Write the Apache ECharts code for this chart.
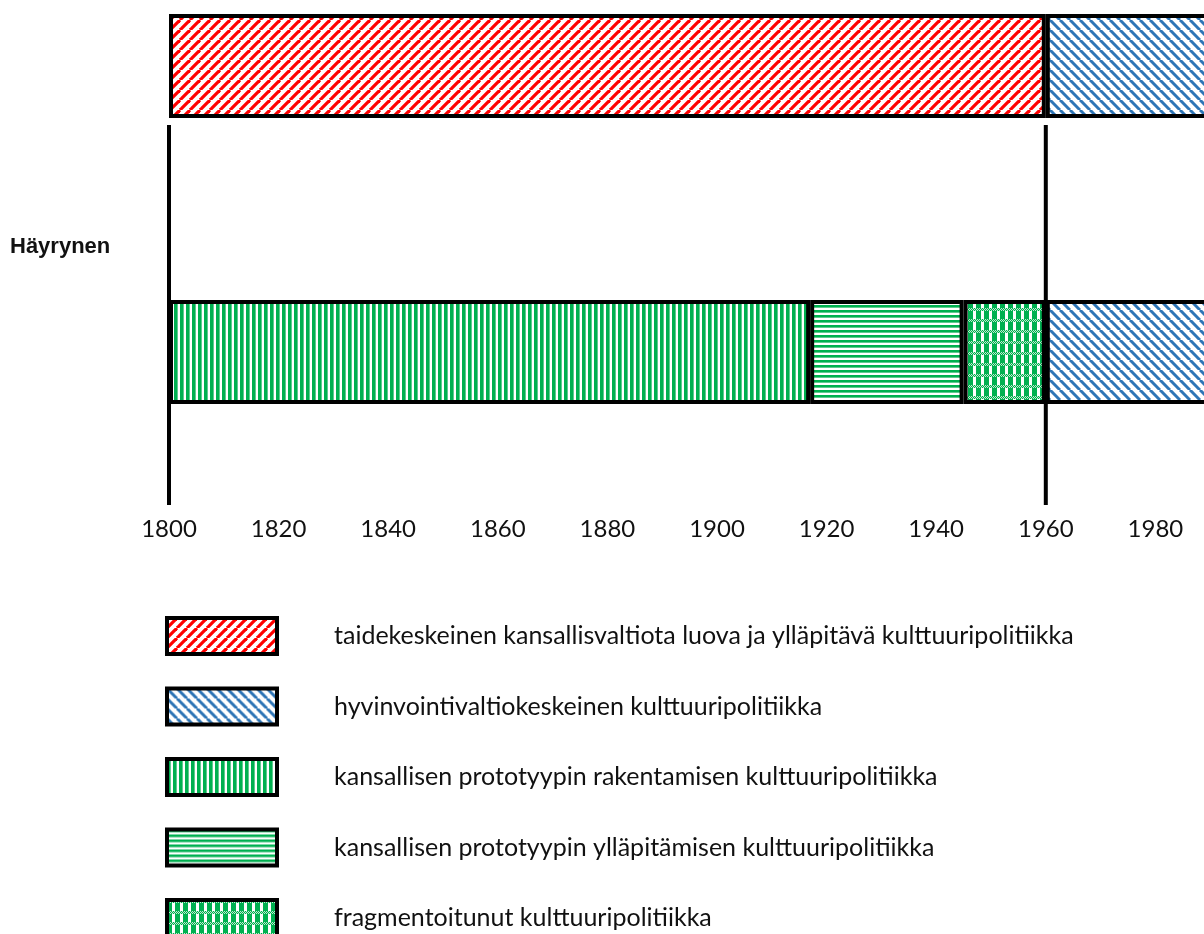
<!DOCTYPE html>
<html><head><meta charset="utf-8">
<script src="https://cdn.jsdelivr.net/npm/echarts@6/dist/echarts.min.js"></script>
<style>html,body{margin:0;padding:0;background:#fff}#c{width:1204px;height:934px}</style>
</head><body><div id="c"></div><script>
// ---------- data ----------
const rows = ['alempi', 'ylempi'];            // category axis, bottom-up
const rowLabel = 'Häyrynen';
const periodNames = [
  'taidekeskeinen kansallisvaltiota luova ja ylläpitävä kulttuuripolitiikka',
  'hyvinvointivaltiokeskeinen kulttuuripolitiikka',
  'kansallisen prototyypin rakentamisen kulttuuripolitiikka',
  'kansallisen prototyypin ylläpitämisen kulttuuripolitiikka',
  'fragmentoitunut kulttuuripolitiikka'
];
// [start, end] years per row [alempi, ylempi]; null = not present in that row
const taidekeskeinen  = [null, [1800, 1960]];
const hyvinvointi     = [[1960, 2000], [1960, 2000]];
const rakentaminen    = [[1800, 1917], null];
const yllapito        = [[1917, 1945], null];
const fragmentoitunut = [[1945, 1960], null];
const boundaryYears = [1800, 1960];
const xMin = 1800, xMax = 2000, xStep = 20;

// ---------- patterns ----------
function tile(w, h, draw) {
  const c = document.createElement('canvas'); c.width = w; c.height = h;
  const g = c.getContext('2d'); g.fillStyle = '#fff'; g.fillRect(0, 0, w, h); draw(g, w, h);
  return { image: c, repeat: 'repeat' };
}
const GREEN = '#00b050';
const patRed = tile(10, 10, (g, w, h) => {
  g.strokeStyle = '#ff0000'; g.lineWidth = 3.2;
  for (const k of [-w, 0, w]) { g.beginPath(); g.moveTo(k, h); g.lineTo(k + w, 0); g.stroke(); }
});
const patBlue = tile(10, 10, (g, w, h) => {
  g.strokeStyle = '#2e75b6'; g.lineWidth = 3;
  for (const k of [-w, 0, w]) { g.beginPath(); g.moveTo(k, 0); g.lineTo(k + w, h); g.stroke(); }
});
const patVert = tile(6, 6, (g, w, h) => {
  g.fillStyle = GREEN; g.fillRect(0, 0, 3, h);
  g.fillStyle = '#5fcb8f'; g.fillRect(3, 0, 1, h);
});
const patHorz = tile(6, 5, (g, w, h) => {
  g.fillStyle = GREEN; g.fillRect(0, 0, w, 2);
  g.fillStyle = '#5fcb8f'; g.fillRect(0, 2, w, 1);
});
const patCheck = tile(8, 11, (g, w, h) => {
  g.fillStyle = GREEN; g.fillRect(0, 3, 5, 8);
  for (let y = 0; y < 3; y++) for (let x = 0; x < w; x++) {
    g.fillStyle = ((x + y) % 2 === 0) ? GREEN : '#bdeacf'; g.fillRect(x, y, 1, 1);
  }
});

// ---------- layout constants ----------
const BAR_W = 104, BORDER = 4, AXIS_OFFSET = 10;
const FONT = 'Lato';

const dur = arr => arr.map(p => p ? p[1] - p[0] : null);
const baseVals = rows.map(() => xMin);

const segs = [
  { name: periodNames[0], data: dur(taidekeskeinen), pat: patRed },
  { name: periodNames[2], data: dur(rakentaminen), pat: patVert },
  { name: periodNames[3], data: dur(yllapito), pat: patHorz },
  { name: periodNames[4], data: dur(fragmentoitunut), pat: patCheck },
  { name: periodNames[1], data: dur(hyvinvointi), pat: patBlue }
];

const series = [
  { type: 'bar', stack: 'aika', barWidth: BAR_W, silent: true, name: '_base', data: baseVals,
    itemStyle: { color: 'rgba(0,0,0,0)', borderWidth: 0 } }
].concat(segs.map(s => ({
  type: 'bar', stack: 'aika', barWidth: BAR_W, silent: true,
  name: s.name, data: s.data,
  itemStyle: { color: s.pat, borderColor: '#000', borderWidth: BORDER }
}))).concat([{
  type: 'custom', silent: true, z: 1,
  data: boundaryYears.map(y => [y, rows.length - 1]),
  encode: { x: 0, y: 1 },
  renderItem(params, api) {
    const p = api.coord([api.value(0), api.value(1)]);
    const cs = params.coordSys;
    return { type: 'line',
      shape: { x1: p[0], y1: p[1] + BAR_W / 2 + 7, x2: p[0], y2: cs.y + cs.height + AXIS_OFFSET },
      style: { stroke: '#000', lineWidth: 4 } };
  }
}]);

const chart = echarts.init(document.getElementById('c'), null, { renderer: 'canvas' });
chart.setOption({
  animation: false,
  backgroundColor: '#fff',
  grid: { left: 169, right: -61, top: -77, bottom: 439, containLabel: false, outerBoundsMode: 'none' },
  xAxis: { type: 'value', min: xMin, max: xMax, interval: xStep, offset: AXIS_OFFSET,
    axisLine: { show: false }, axisTick: { show: false }, splitLine: { show: false },
    axisLabel: { margin: 12, fontFamily: FONT, fontSize: 24, color: '#111',
      formatter: v => String(v) } },
  yAxis: { type: 'category', data: rows, show: false },
  legend: { data: periodNames, orient: 'vertical', left: 165, top: 616, padding: 0,
    width: 1000, height: 400,
    itemWidth: 110, itemHeight: 36, itemGap: 30.5, icon: 'rect', selectedMode: false,
    itemStyle: { borderColor: '#000', borderWidth: 4 },
    textStyle: { fontFamily: FONT, fontSize: 25, color: '#111', padding: [0, 0, 0, 52] } },
  graphic: [{ type: 'text', left: 10, top: 236,
    style: { text: rowLabel, font: 'bold 22px "Liberation Sans", Arial, sans-serif', fill: '#111' } }],
  series
});
</script></body></html>
